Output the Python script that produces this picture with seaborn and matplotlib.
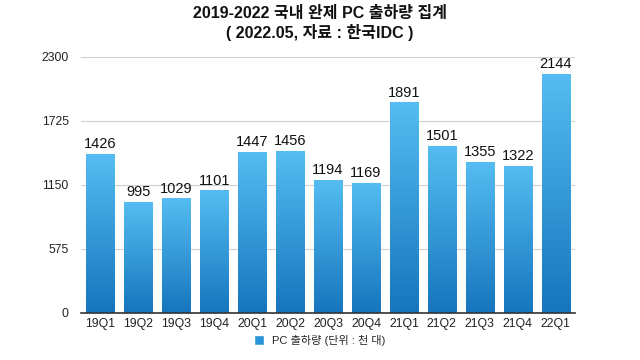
import matplotlib
matplotlib.use("Agg")
import matplotlib.pyplot as plt
import matplotlib.colors as mcolors
import numpy as np
import pandas as pd
import seaborn as sns

quarters = ['19Q1', '19Q2', '19Q3', '19Q4', '20Q1', '20Q2', '20Q3', '20Q4',
            '21Q1', '21Q2', '21Q3', '21Q4', '22Q1']
shipments = [1426, 995, 1029, 1101, 1447, 1456, 1194, 1169, 1891, 1501, 1355, 1322, 2144]
y_ticks = [0, 575, 1150, 1725, 2300]

sns.set_theme(style="white")
plt.rcParams['font.family'] = ['Liberation Sans', 'Noto Sans CJK KR', 'DejaVu Sans']

df = pd.DataFrame({'quarter': quarters, 'value': shipments})

fig = plt.figure(figsize=(6.4, 3.6), dpi=100)
ax = fig.add_axes([0.127, 0.131, 0.771, 0.711])

sns.barplot(data=df, x='quarter', y='value', color='#2a94d8', width=0.74,
            saturation=1, ax=ax, zorder=2)

# gradient fill for each bar, light on top -> darker at bottom
cmap = mcolors.LinearSegmentedColormap.from_list('bar', ['#1675bd', '#55bdf1'])
grad = np.linspace(0, 1, 256).reshape(-1, 1)
for p in ax.patches:
    x0, y0 = p.get_x(), p.get_y()
    w, h = p.get_width(), p.get_height()
    im = ax.imshow(grad, cmap=cmap, origin='lower', aspect='auto',
                   extent=[x0, x0 + w, y0, y0 + h], zorder=3)
    im.set_clip_path(p)

ax.bar_label(ax.containers[0], fontsize=10.5, padding=2, color='#111111')

ax.set_xlim(-0.5, len(quarters) - 0.5)
ax.set_ylim(0, 2300)
ax.set_yticks(y_ticks)
ax.set_yticklabels([str(t) for t in y_ticks])
ax.tick_params(axis='both', labelsize=8.8, length=0, colors='#222222')
ax.tick_params(axis='y', pad=9)
ax.tick_params(axis='x', pad=4)
ax.set_xlabel('')
ax.set_ylabel('')
ax.yaxis.grid(True, color='#d0d0d0', linewidth=0.8, zorder=0)
ax.set_axisbelow(True)
for s in ['top', 'right', 'left']:
    ax.spines[s].set_visible(False)
ax.spines['bottom'].set_color('#333333')
ax.spines['bottom'].set_linewidth(1.2)
ax.spines['bottom'].set_zorder(5)

fig.text(0.5, 0.962, '2019-2022 국내 완제 PC 출하량 집계', ha='center', va='center',
         fontsize=11.5, fontweight='bold', color='#111111')
fig.text(0.5, 0.91, '( 2022.05, 자료 : 한국IDC )', ha='center', va='center',
         fontsize=11.5, fontweight='bold', color='#111111')

handle = plt.Rectangle((0, 0), 1, 1, facecolor='#2a94d8')
fig.legend([handle], ['PC 출하량 (단위 : 천 대)'], loc='center', bbox_to_anchor=(0.5, 0.055),
           frameon=False, fontsize=8, handlelength=0.9, handleheight=0.9, handletextpad=0.7)

fig.savefig('out.png', dpi=100)
